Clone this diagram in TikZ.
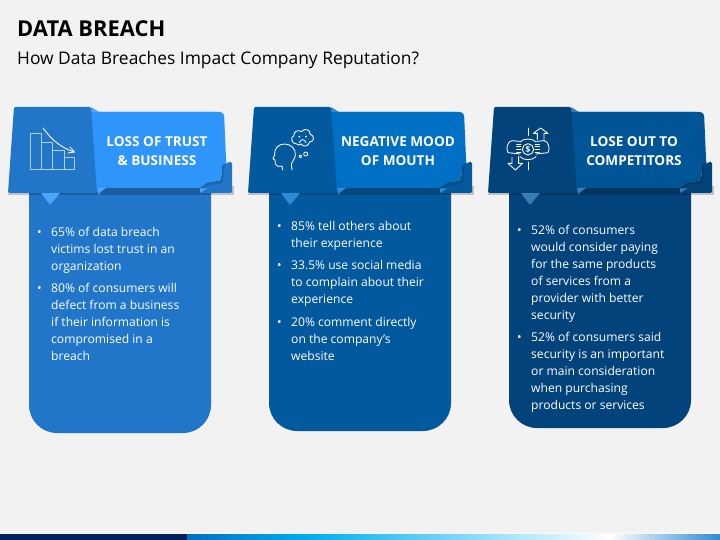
\documentclass[tikz,border=0pt]{standalone}
\usepackage{fontspec}
\setmainfont{Open Sans}
\usepackage{tikz}
\usetikzlibrary{positioning}

\definecolor{pagegray}{HTML}{F2F2F2}
\definecolor{darkA}{HTML}{2176C9}
\definecolor{mainA}{HTML}{2E96FA}
\definecolor{tipA}{HTML}{4DA5F7}
\definecolor{darkB}{HTML}{03599E}
\definecolor{mainB}{HTML}{0070C4}
\definecolor{tipB}{HTML}{2F8AD3}
\definecolor{darkC}{HTML}{03437B}
\definecolor{mainC}{HTML}{005596}
\definecolor{tipC}{HTML}{3B7CB5}
\definecolor{barnavy}{HTML}{002060}
\definecolor{barblue}{HTML}{0070C0}
\definecolor{barcyan}{HTML}{00B0F0}

% one card: x shift, body bottom, colour letter
\newcommand{\drawcard}[3]{%
  \begin{scope}[shift={(#1,0)}]
    \fill[dark#3, rounded corners=28pt] (29,160) -- (211,160) -- (211,#2) -- (29,#2) -- cycle;
    \fill[black, opacity=.2] (100,186) -- (234,186) -- (234,195.5) -- (100,195.5) -- cycle;
    \fill[black, opacity=.2] (8,192) -- (98,192) -- (98,195) -- (8,195) -- cycle;
    \fill[tip#3] (41,193) -- (60,193) -- (50,205) -- cycle;
    \fill[main#3, rounded corners=4pt] (91,112) -- (224,112) -- (226.5,170) -- (120,188) -- (91,188) -- cycle;
    \fill[main#3] (91,112) -- (215,112) -- (226.5,163) -- (222,165.5) -- (221,180) -- (207,183) -- (200,188) -- (97,188) -- cycle;
    \fill[dark#3!85!black] (226.5,163) -- (222,165.5) -- (221,180) -- (207,183) -- (200,188) -- (203,190) -- (223,184) -- cycle;
    \fill[tip#3] (91,107) -- (99,112) -- (91,112) -- cycle;
    \fill[tip#3] (97,188) -- (106,188) -- (98,194) -- cycle;
    \fill[dark#3, rounded corners=1.5pt] (228,162) -- (232,162) -- (232,193) -- (200,193) -- (200,190) -- (208,185.5) -- (223,183) -- (224,167) -- cycle;
    \fill[tip#3] (200,188.5) -- (207,188.5) -- (200,193) -- cycle;
    \fill[dark#3, rounded corners=1.5pt] (14,107) -- (91,107) -- (97,193) -- (8,193) -- cycle;
  \end{scope}%
}

\tikzset{
  headtext/.style={text=white, font=\fontsize{13.6}{19}\selectfont\bfseries, align=center, inner sep=0pt},
  itemtext/.style={text=white, font=\fontsize{12.1}{17}\selectfont, align=left, anchor=north west, inner sep=0pt},
  iconline/.style={draw=white, line width=.85pt, line join=round, line cap=round},
  iconbar/.style={draw=white!65!darkA, line width=1pt}
}
\newcommand{\itemdot}{\llap{•\hspace{9.5pt}}}

\begin{document}
\begin{tikzpicture}[x=1pt, y=-1pt]
    \useasboundingbox (0,0) rectangle (720,540);
    \fill[pagegray] (0,0) rectangle (720,540);

    % bottom bar
    \fill[white!70!pagegray] (0,532.5) rectangle (390,534);
    \fill[white!70!pagegray] (498,532.5) rectangle (720,534);
    \fill[left color=barblue, right color=barcyan] (187,534) rectangle (312,540);
    \fill[left color=barcyan, right color=white] (311.5,534) rectangle (610,540);
    \fill[left color=white, right color=tipB] (609.5,534) rectangle (720,540);
    \fill[barnavy] (0,534) rectangle (187,540);

    % title
    \node[anchor=west, inner sep=0pt, font=\fontsize{21.9}{24}\selectfont\bfseries] (title) at (17,28.5) {DATA BREACH};
    \node[anchor=west, inner sep=0pt, font=\fontsize{17.4}{20}\selectfont] (subtitle) at (17,60) {How Data Breaches Impact Company Reputation?};

    \drawcard{0}{433}{A}
    \drawcard{240}{431}{B}
    \drawcard{480}{428}{C}

    % headers
    \node[headtext] (trusthead) at (157,151.5) {LOSS OF TRUST\\\& BUSINESS};
    \node[headtext] (moodhead) at (398,151.5) {NEGATIVE MOOD\\OF MOUTH};
    \node[headtext] (losehead) at (634,151.5) {LOSE OUT TO\\COMPETITORS};

    % first list
    \node[itemtext] (trustone) at (51,227) {\itemdot 65\% of data breach\\victims lost trust in an\\organization};
    \node[itemtext] (trusttwo) at (51,283) {\itemdot 80\% of consumers will\\defect from a business\\if their information is\\compromised in a\\breach};

    % second list
    \node[itemtext] (moodone) at (291,221) {\itemdot 85\% tell others about\\their experience};
    \node[itemtext] (moodtwo) at (291,260) {\itemdot 33.5\% use social media\\to complain about their\\experience};
    \node[itemtext] (moodthree) at (291,317) {\itemdot 20\% comment directly\\on the company’s\\website};

    % third list
    \node[itemtext] (loseone) at (531,225) {\itemdot 52\% of consumers\\would consider paying\\for the same products\\of services from a\\provider with better\\security};
    \node[itemtext] (losetwo) at (531,332) {\itemdot 52\% of consumers said\\security is an important\\or main consideration\\when purchasing\\products or services};

    % chart icon
    \draw[iconbar] (30,134) rectangle (41,170);
    \draw[iconbar] (41,142.5) rectangle (52.5,170);
    \draw[iconbar] (52.5,150.5) rectangle (64,170);
    \draw[iconbar] (64,158) rectangle (74.5,170);
    \draw[iconline] (43,128) .. controls (52,140) and (60,147) .. (74,152);
    \draw[iconline] (70,147) -- (74.5,152) -- (68,153);

    % head and cloud icon
    \begin{scope}[shift={(262,120)}, scale=1/3]
      \draw[iconline] (62,150) -- (60,138) .. controls (50,140) and (42,140) .. (40,132) -- (39,120) -- (33,116) -- (38,104)
        .. controls (36,85) and (50,72) .. (68,72) .. controls (88,72) and (102,88) .. (100,106) .. controls (98,118) and (90,124) .. (88,132) -- (90,150);
      \draw[iconline] (104,72) .. controls (88,72) and (84,52) .. (96,46) .. controls (94,34) and (110,28) .. (118,35)
        .. controls (128,22) and (146,30) .. (144,42) .. controls (158,46) and (158,66) .. (143,66)
        .. controls (140,80) and (122,82) .. (118,72) .. controls (114,76) and (108,76) .. (104,72) -- cycle;
      \draw[iconline] (112,68) .. controls (116,56) and (128,56) .. (132,68);
      \fill[white] (112,50) circle (3) (132,50) circle (3);
      \draw[iconline] (131,102) circle (6);
      \draw[iconline] (115,109) circle (4.5);
    \end{scope}

    % coin and hands icon
    \begin{scope}[shift={(500,120)}, scale=1/3]
      \draw[iconline, dash pattern=on 11 off 8] (84,24) -- (84,46);
      \draw[iconline, dash pattern=on 11 off 8] (84,126) -- (84,150);
      \draw[iconline] (112,58) -- (112,40) -- (100,40) -- (122,24) -- (144,40) -- (132,40) -- (132,62);
      \draw[iconline] (36,112) -- (36,130) -- (24,130) -- (46,150) -- (68,130) -- (56,130) -- (56,110);
      \draw[iconline] (60,66) .. controls (70,54) and (98,54) .. (108,66);
      \draw[iconline] (60,110) .. controls (70,122) and (98,122) .. (108,110);
      \draw[iconline] (84,88) circle (17);
      \node[text=white, inner sep=0pt, font=\fontsize{8.5}{9}\selectfont\bfseries] (coinsign) at (84,88) {\$};
      \draw[iconline] (58,64) -- (36,62) .. controls (24,62) and (16,86) .. (24,98) -- (60,102);
      \foreach \fy in {72,80,88,96} {\draw[iconline] (50,\fy) -- (63,\fy);}
      \draw[iconline] (110,64) -- (132,62) .. controls (144,62) and (152,86) .. (144,98) -- (108,102);
      \foreach \fy in {72,80,88,96} {\draw[iconline] (105,\fy) -- (118,\fy);}
    \end{scope}
\end{tikzpicture}
\end{document}
